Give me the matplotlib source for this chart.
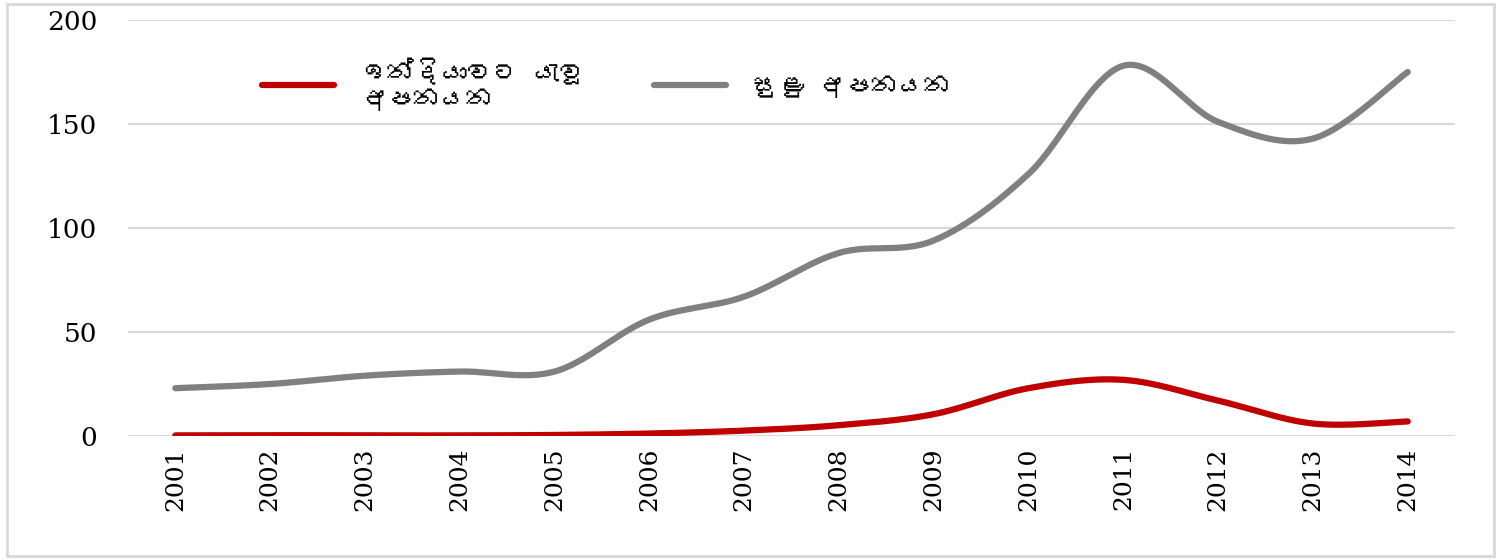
import matplotlib
matplotlib.use("Agg")
import matplotlib.pyplot as plt
import numpy as np
from matplotlib import font_manager
from matplotlib.ft2font import FT2Font
from matplotlib.patches import Rectangle

# ----------------------------------------------------------------------------
# Data
# ----------------------------------------------------------------------------
YEARS = ['2001', '2002', '2003', '2004', '2005', '2006', '2007',
         '2008', '2009', '2010', '2011', '2012', '2013', '2014']
INDIA_EXPORTS = [0.3, 0.4, 0.3, 0.3, 0.5, 1.2, 2.6, 5.2, 10.5, 23, 27, 17, 6, 7]
MINOR_EXPORTS = [23, 25, 29, 31, 31, 56, 67, 88, 94, 126, 178, 151, 143, 175]
LABEL_INDIA = 'ඉන්දියාවට යැවූ\nඅපනයන'
LABEL_MINOR = 'සුළු අපනයන'

RED = '#C00000'
GRAY = '#808080'
GRID = '#D9D9D9'


def sinhala_fonts():
    """Installed families that actually cover Sinhala (U+0D85)."""
    found = []
    for f in font_manager.fontManager.ttflist:
        try:
            if 0x0D85 in FT2Font(f.fname).get_charmap():
                if f.name not in found:
                    found.append(f.name)
        except Exception:
            pass
    return found


def smooth(x, y, n=30):
    """Excel-style smoothed line: cubic Bezier with Catmull-Rom controls."""
    x = np.asarray(x, float)
    y = np.asarray(y, float)
    px = np.concatenate([[x[0]], x, [x[-1]]])
    py = np.concatenate([[y[0]], y, [y[-1]]])
    xs, ys = [], []
    t = np.linspace(0, 1, n)
    for i in range(1, len(x)):
        p0 = np.array([px[i], py[i]])
        p3 = np.array([px[i + 1], py[i + 1]])
        c1 = p0 + (np.array([px[i + 1], py[i + 1]]) - np.array([px[i - 1], py[i - 1]])) / 6
        c2 = p3 - (np.array([px[i + 2], py[i + 2]]) - np.array([px[i], py[i]])) / 6
        b = ((1 - t) ** 3)[:, None] * p0 + (3 * (1 - t) ** 2 * t)[:, None] * c1 \
            + (3 * (1 - t) * t ** 2)[:, None] * c2 + (t ** 3)[:, None] * p3
        xs.append(b[:, 0])
        ys.append(b[:, 1])
    return np.concatenate(xs), np.concatenate(ys)


plt.rcParams['font.family'] = 'DejaVu Serif'
legend_family = sinhala_fonts() + ['DejaVu Sans']

fig = plt.figure(figsize=(14.98, 5.60), dpi=100)
ax = fig.add_axes([0.0854, 0.2214, 0.886, 0.7429])

x = np.arange(len(YEARS))
sx, sy = smooth(x, INDIA_EXPORTS)
ax.plot(sx, sy, color=RED, lw=4.5, solid_capstyle='round', label=LABEL_INDIA, zorder=3)
sx, sy = smooth(x, MINOR_EXPORTS)
ax.plot(sx, sy, color=GRAY, lw=4.5, solid_capstyle='round', label=LABEL_MINOR, zorder=3)

ax.set_xlim(-0.5, len(YEARS) - 0.5)
ax.set_ylim(0, 200)
ax.set_yticks([0, 50, 100, 150, 200])
ax.set_xticks(x)
ax.set_xticklabels(YEARS, rotation=90, fontsize=18)
ax.tick_params(axis='y', length=0, pad=22, labelsize=19)
ax.tick_params(axis='x', length=0, pad=8)
ax.grid(axis='y', color=GRID, lw=1.5)
ax.set_axisbelow(True)
for s in ax.spines.values():
    s.set_visible(False)

ax.legend(loc='upper left', bbox_to_anchor=(0.091, 0.94), ncol=2, frameon=False,
          prop={'family': legend_family, 'size': 19}, borderpad=0,
          handlelength=2.75, handletextpad=1.0, columnspacing=2.6, labelspacing=0.2)

# light border round the whole chart
fig.patches.append(Rectangle((0.005, 0.007), 0.992, 0.986, transform=fig.transFigure,
                             fill=False, edgecolor=GRID, lw=2))

fig.savefig('out.png', dpi=100, facecolor='white')
